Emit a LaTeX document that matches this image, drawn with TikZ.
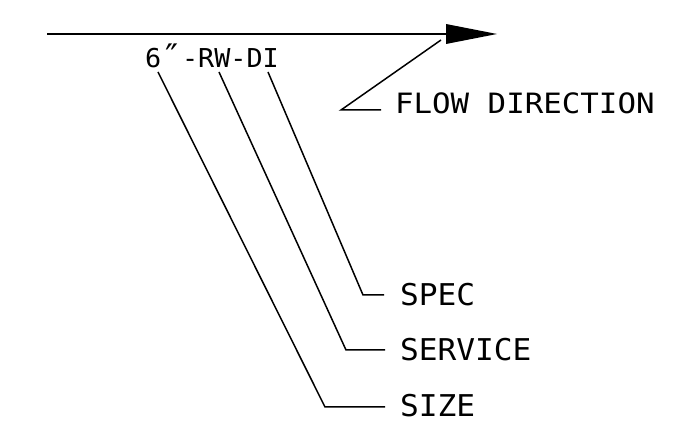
\documentclass[tikz,border=0pt]{standalone}
\usepackage{fontspec}
\newfontfamily\cadfont{DejaVu Sans Mono}
\newcommand\cadtxt[2]{\scalebox{#1}[1]{#2}}
\tikzset{
  line/.style={line width=1.5pt, line join=miter},
  lbl/.style={anchor=west, inner sep=0pt, outer sep=0pt, font=\cadfont\fontsize{30}{30}\selectfont},
  flowlbl/.style={anchor=west, inner sep=0pt, outer sep=0pt, font=\cadfont\fontsize{28}{28}\selectfont},
  tag/.style={anchor=west, inner sep=0pt, outer sep=0pt, font=\cadfont\fontsize{26}{26}\selectfont},
}
\begin{document}
\begin{tikzpicture}[x=1pt,y=-1pt]
\useasboundingbox (0,0) rectangle (686,443);
% main pipe line with arrow
\coordinate (start) at (47,34);
\coordinate (base) at (446,34);
\coordinate (tip) at (497,34);
\draw[line width=1.7pt] (start) -- (base);
\fill (446,24) -- (tip) -- (446,44) -- cycle;
% label
\node[tag] (tagtxt) at (145,56) {\cadtxt{1.03}{6\raisebox{-1pt}{\scalebox{1.3}{″}}-RW-DI}};
% flow direction
\node[flowlbl] (flow) at (395,103) {\cadtxt{1.10}{FLOW DIRECTION}};
\coordinate (f1) at (441,40);
\coordinate (f2) at (341,110);
\coordinate (f3) at (381,110);
\draw[line] (f1) -- (f2) -- (f3);
% leaders
\node[lbl] (spec) at (400,295) {\cadtxt{1.04}{SPEC}};
\node[lbl] (service) at (400,350) {\cadtxt{1.04}{SERVICE}};
\node[lbl] (size) at (400,406) {\cadtxt{1.04}{SIZE}};
\coordinate (a1) at (158,72);
\coordinate (a2) at (325,407);
\coordinate (a3) at (385,407);
\coordinate (b1) at (219,72);
\coordinate (b2) at (346,350);
\coordinate (b3) at (385,350);
\coordinate (c1) at (268,72);
\coordinate (c2) at (363,295);
\coordinate (c3) at (384,295);
\draw[line] (a1) -- (a2) -- (a3);
\draw[line] (b1) -- (b2) -- (b3);
\draw[line] (c1) -- (c2) -- (c3);
\end{tikzpicture}
\end{document}
